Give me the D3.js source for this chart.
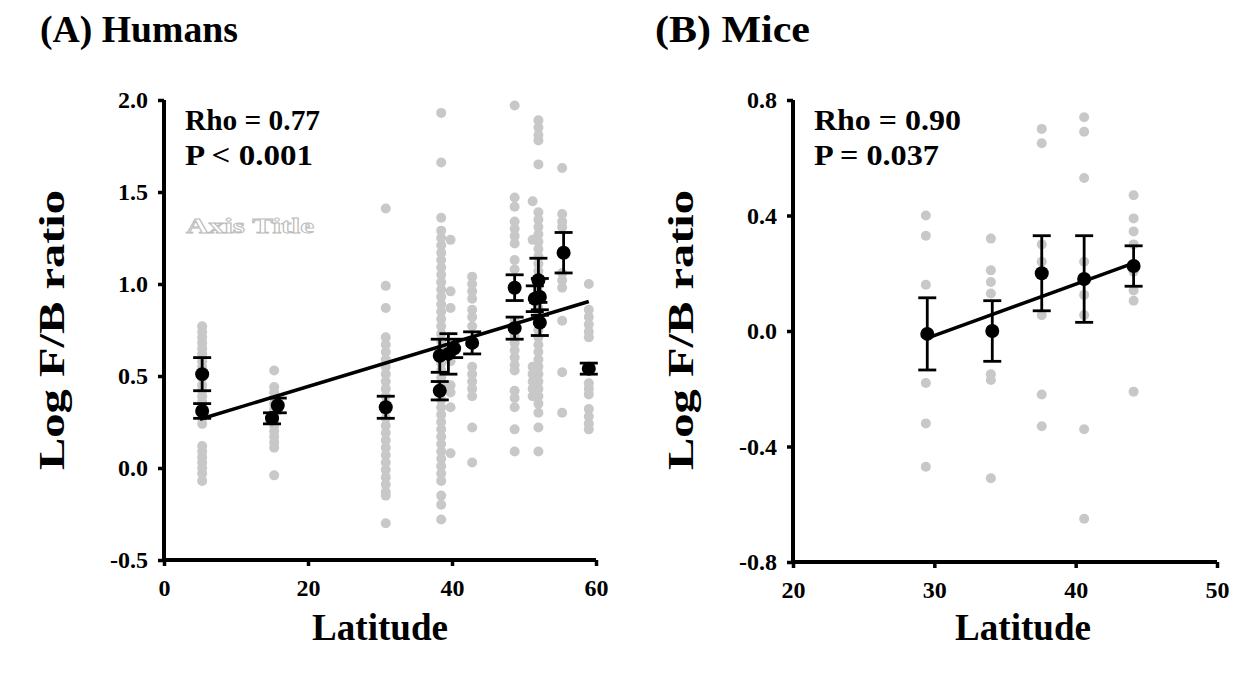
<!DOCTYPE html>
<html>
<head>
<meta charset="utf-8">
<script src="https://cdn.jsdelivr.net/npm/d3@7"></script>
<style>
  body { margin: 0; background: #fff; }
  svg { display: block; }
  text { font-family: "Liberation Serif", "Times New Roman", serif; font-weight: bold; }
</style>
</head>
<body>
<svg width="1236" height="673"></svg>
<script>
// ---- Humans: raw samples per latitude column ----
var humanRawLat = [5.3, 15.3, 30.8, 38.5, 39.8, 42.8, 48.7, 51.2, 52.0, 55.3, 59.0];
var humanRaw = [
  [0.77, 0.74, 0.71, 0.68, 0.65, 0.62, 0.58, 0.55, 0.52, 0.49, 0.45, 0.42, 0.39, 0.36, 0.33, 0.30, 0.27, 0.24, 0.12, 0.09, 0.06, 0.03, 0.0, -0.03, -0.07],
  [0.53, 0.44, 0.41, 0.38, 0.35, 0.32, 0.29, 0.26, 0.23, 0.20, 0.17, 0.14, 0.11, -0.04],
  [1.41, 0.99, 0.87, 0.71, 0.67, 0.63, 0.59, 0.55, 0.51, 0.47, 0.43, 0.39, 0.35, 0.31, 0.27, 0.23, 0.19, 0.15, 0.11, 0.07, 0.03, -0.01, -0.05, -0.09, -0.13, -0.15, -0.30],
  [1.93, 1.66, 1.36, 1.29, 1.25, 1.21, 1.17, 1.13, 1.09, 1.05, 1.01, 0.97, 0.93, 0.89, 0.85, 0.81, 0.77, 0.73, 0.69, 0.65, 0.61, 0.57, 0.53, 0.49, 0.45, 0.41, 0.37, 0.33, 0.29, 0.25, 0.21, 0.17, 0.13, 0.09, 0.05, 0.01, -0.03, -0.07, -0.15, -0.20, -0.28],
  [1.24, 0.96, 0.87, 0.58, 0.45, 0.41, 0.33, 0.08],
  [1.04, 1.00, 0.96, 0.92, 0.86, 0.82, 0.77, 0.55, 0.51, 0.47, 0.43, 0.39, 0.22, 0.03],
  [1.97, 1.47, 1.42, 1.34, 1.30, 1.26, 1.22, 1.13, 1.08, 0.80, 0.76, 0.72, 0.68, 0.64, 0.60, 0.56, 0.53, 0.42, 0.38, 0.33, 0.21, 0.09],
  [1.45, 1.24, 0.55, 0.51, 0.47, 0.43, 0.39],
  [1.89, 1.85, 1.81, 1.78, 1.65, 1.39, 1.35, 1.31, 1.27, 1.23, 1.19, 1.15, 1.11, 1.07, 1.03, 0.99, 0.95, 0.91, 0.87, 0.83, 0.79, 0.75, 0.71, 0.67, 0.63, 0.59, 0.55, 0.51, 0.47, 0.43, 0.39, 0.35, 0.30, 0.22, 0.09],
  [1.63, 1.38, 1.34, 1.31, 1.06, 1.02, 0.98, 0.80, 0.52, 0.30],
  [1.00, 0.86, 0.82, 0.78, 0.74, 0.71, 0.46, 0.43, 0.40, 0.32, 0.28, 0.24, 0.21]
];
// ---- Humans: study means with SE ----
var humanMeanLat = [5.3, 5.3, 15.0, 15.8, 30.8, 38.3, 38.3, 39.5, 40.3, 42.8, 48.7, 48.7, 51.5, 52.0, 52.2, 52.2, 55.5, 59.0];
var humanMean = [0.51, 0.31, 0.27, 0.34, 0.33, 0.42, 0.61, 0.62, 0.65, 0.68, 0.98, 0.76, 0.92, 1.02, 0.93, 0.79, 1.17, 0.54];
var humanErr = [0.09, 0.04, 0.03, 0.04, 0.06, 0.05, 0.09, 0.11, 0.05, 0.06, 0.07, 0.06, 0.07, 0.12, 0.10, 0.07, 0.11, 0.03];
var humanFit = [[5, 0.265], [59, 0.905]];

// ---- Mice ----
var miceRawLat = [29.4, 34.0, 37.6, 40.6, 44.1];
var miceRaw = [
  [0.40, 0.33, 0.16, -0.18, -0.32, -0.47],
  [0.32, 0.21, 0.17, 0.13, -0.15, -0.17, -0.51],
  [0.70, 0.65, 0.30, 0.24, 0.055, -0.22, -0.33],
  [0.74, 0.69, 0.53, 0.24, 0.125, 0.055, -0.34, -0.65],
  [0.47, 0.39, 0.345, 0.30, 0.205, 0.14, 0.105, -0.21]
];
var miceMeanLat = [29.5, 34.1, 37.6, 40.6, 44.1];
var miceMean = [-0.01, 0.0, 0.20, 0.18, 0.225];
var miceErr = [0.125, 0.105, 0.13, 0.15, 0.07];
var miceFit = [[29.5, -0.025], [44.1, 0.235]];

var humanYTicks = [-0.5, 0, 0.5, 1.0, 1.5, 2.0];
var humanXTicks = [0, 20, 40, 60];
var miceYTicks = [-0.8, -0.4, 0, 0.4, 0.8];
var miceXTicks = [20, 30, 40, 50];

var svg = d3.select('svg');
var fmt = function(d) { return d3.format('.1f')(d).replace('\u2212', '-'); };

function label(x, y, size, len, str) {
  return svg.append('text').attr('x', x).attr('y', y).attr('font-size', size)
    .attr('textLength', len).attr('lengthAdjust', 'spacingAndGlyphs').text(str);
}

function drawPanel(p) {
  var g = svg.append('g');
  var x = d3.scaleLinear().domain(p.xDomain).range(p.xRange);
  var y = d3.scaleLinear().domain(p.yDomain).range(p.yRange);

  // raw gray dots
  p.rawLat.forEach(function(lat, i) {
    g.selectAll(null)
      .data(p.raw[i])
      .enter().append('circle')
      .attr('cx', x(lat))
      .attr('cy', function(d) { return y(d); })
      .attr('r', 5)
      .attr('fill', '#c8c8c8');
  });

  // regression line
  g.append('line')
    .attr('x1', x(p.fit[0][0])).attr('y1', y(p.fit[0][1]))
    .attr('x2', x(p.fit[1][0])).attr('y2', y(p.fit[1][1]))
    .attr('stroke', '#000').attr('stroke-width', 3.5);

  // error bars + means
  p.meanLat.forEach(function(lat, i) {
    var cx = x(lat), m = p.mean[i], e = p.err[i];
    g.append('line').attr('x1', cx).attr('x2', cx)
      .attr('y1', y(m - e)).attr('y2', y(m + e))
      .attr('stroke', '#000').attr('stroke-width', 2.8);
    [m - e, m + e].forEach(function(v) {
      g.append('line').attr('x1', cx - 9).attr('x2', cx + 9)
        .attr('y1', y(v)).attr('y2', y(v))
        .attr('stroke', '#000').attr('stroke-width', 2.8);
    });
    g.append('circle').attr('cx', cx).attr('cy', y(m)).attr('r', 7).attr('fill', '#000');
  });

  // axes
  var yAxis = g.append('g')
    .attr('transform', 'translate(' + p.xRange[0] + ',0)')
    .call(d3.axisLeft(y).tickValues(p.yTicks).tickSize(6).tickPadding(10).tickFormat(fmt));
  var xAxis = g.append('g')
    .attr('transform', 'translate(0,' + p.yRange[0] + ')')
    .call(d3.axisBottom(x).tickValues(p.xTicks).tickSize(6).tickPadding(13).tickFormat(d3.format('d')));
  [yAxis, xAxis].forEach(function(a) {
    a.select('.domain').remove();
    a.selectAll('.tick line').attr('stroke-width', 3.5);
    a.selectAll('.tick text').attr('font-size', 24).attr('fill', '#000')
      .style('font-family', '"Liberation Serif", serif').style('font-weight', 'bold');
  });
  g.append('path')
    .attr('d', 'M' + p.xRange[0] + ',' + p.yRange[1] + 'V' + p.yRange[0] + 'H' + p.xRange[1])
    .attr('fill', 'none').attr('stroke', '#000').attr('stroke-width', 4);

  // titles
  label(p.titleX, 42, 37, p.titleLen, p.title);
  label(p.latX, 640, 37, 136, 'Latitude');
  svg.append('text')
    .attr('transform', 'translate(' + (p.xRange[0] - 100) + ',' + 330 + ') rotate(-90)')
    .attr('text-anchor', 'middle').attr('font-size', 35)
    .attr('textLength', 280).attr('lengthAdjust', 'spacingAndGlyphs').text('Log F/B ratio');
  label(p.xRange[0] + 21, 130, 29, p.rhoLen, p.rho);
  label(p.xRange[0] + 21, 165, 29, p.pLen, p.pval);
  return g;
}

drawPanel({
  xDomain: [0, 60], xRange: [164, 596],
  yDomain: [-0.5, 2.0], yRange: [560, 100],
  xTicks: humanXTicks, yTicks: humanYTicks,
  rawLat: humanRawLat, raw: humanRaw,
  meanLat: humanMeanLat, mean: humanMean, err: humanErr, fit: humanFit,
  title: '(A) Humans', titleX: 40, titleLen: 198, latX: 312,
  rho: 'Rho = 0.77', rhoLen: 135, pval: 'P < 0.001', pLen: 128
});

// ghost "Axis Title" placeholder left in the original figure
label(186, 233, 22, 128, 'Axis Title')
  .attr('fill', '#fff').attr('stroke', '#bbb').attr('stroke-width', 0.9);

drawPanel({
  xDomain: [20, 50], xRange: [793, 1217],
  yDomain: [-0.8, 0.8], yRange: [562, 100],
  xTicks: miceXTicks, yTicks: miceYTicks,
  rawLat: miceRawLat, raw: miceRaw,
  meanLat: miceMeanLat, mean: miceMean, err: miceErr, fit: miceFit,
  title: '(B) Mice', titleX: 655, titleLen: 155, latX: 955,
  rho: 'Rho = 0.90', rhoLen: 147, pval: 'P = 0.037', pLen: 125
});
</script>
</body>
</html>
